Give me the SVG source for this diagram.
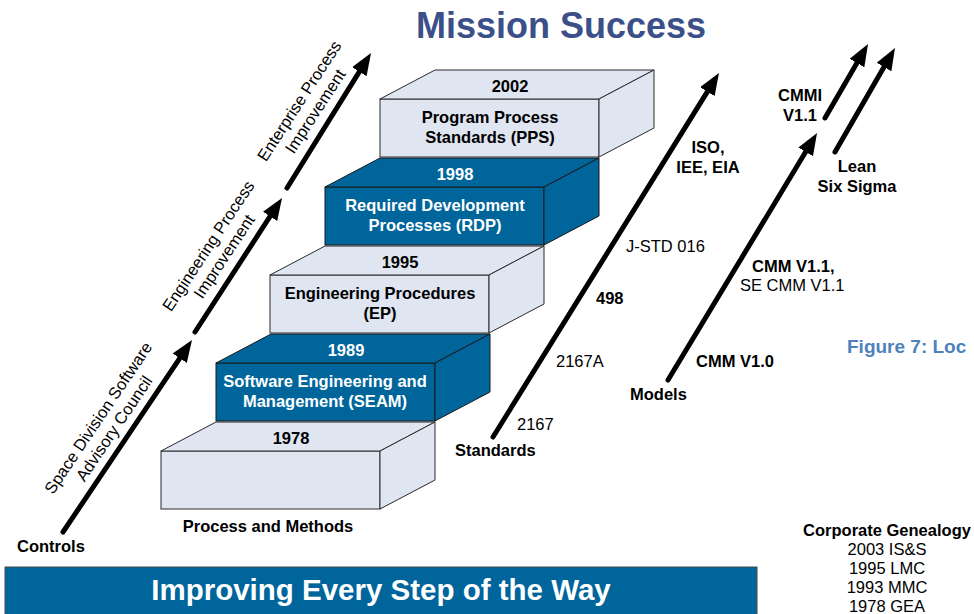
<svg xmlns="http://www.w3.org/2000/svg" width="974" height="614" viewBox="0 0 974 614">
<style>
  text { font-family: "Liberation Sans", Arial, sans-serif; font-size: 16.5px; fill: #000; }
  .b { font-weight: bold; }
  .w { fill: #fff; }
  .m { text-anchor: middle; }
  .light { fill: #dfe5f1; stroke: #2a2a2a; stroke-width: 1; }
  .dark { fill: #00659b; stroke: #1a1a1a; stroke-width: 1; }
  .arr { stroke: #000; stroke-width: 5; stroke-linecap: round; fill: none; marker-end: url(#head); }
</style>
<defs>
  <marker id="head" markerUnits="userSpaceOnUse" markerWidth="22" markerHeight="17" viewBox="0 0 22 17" refX="8" refY="8.5" orient="auto">
    <path d="M0,0 L22,8.5 L0,17 z" fill="#000"/>
  </marker>
</defs>
<rect width="974" height="614" fill="#fff"/>

<text id="title" x="561" y="38" class="b m" style="font-size:36px;fill:#3b5088">Mission Success</text>

<!-- Step boxes -->
<g id="box1978">
  <rect class="light" x="161" y="451" width="219" height="58"/>
  <polygon class="light" points="161,451 216,422 435,422 380,451"/>
  <polygon class="light" points="380,451 435,422 435,480 380,509"/>
  <text x="291" y="444" class="b m">1978</text>
</g>
<g id="box1989">
  <rect class="dark" x="216" y="363" width="219" height="58"/>
  <polygon class="dark" points="216,363 271,334 490,334 435,363"/>
  <polygon class="dark" points="435,363 490,334 490,392 435,421"/>
  <text x="346" y="356" class="b m w">1989</text>
  <text x="325" y="387" class="b m w">Software Engineering and</text>
  <text x="325" y="407" class="b m w">Management (SEAM)</text>
</g>
<g id="box1995">
  <rect class="light" x="270" y="275" width="219" height="58"/>
  <polygon class="light" points="270,275 325,246 544,246 489,275"/>
  <polygon class="light" points="489,275 544,246 544,304 489,333"/>
  <text x="400" y="268" class="b m">1995</text>
  <text x="380" y="299" class="b m">Engineering Procedures</text>
  <text x="380" y="319" class="b m">(EP)</text>
</g>
<g id="box1998">
  <rect class="dark" x="325" y="187" width="219" height="58"/>
  <polygon class="dark" points="325,187 380,158 599,158 544,187"/>
  <polygon class="dark" points="544,187 599,158 599,216 544,245"/>
  <text x="455" y="180" class="b m w">1998</text>
  <text x="435" y="211" class="b m w">Required Development</text>
  <text x="435" y="231" class="b m w">Processes (RDP)</text>
</g>
<g id="box2002">
  <rect class="light" x="380" y="99" width="219" height="58"/>
  <polygon class="light" points="380,99 435,70 654,70 599,99"/>
  <polygon class="light" points="599,99 654,70 654,128 599,157"/>
  <text x="510" y="92" class="b m">2002</text>
  <text x="490" y="123" class="b m">Program Process</text>
  <text x="490" y="143" class="b m">Standards (PPS)</text>
</g>

<g id="connectors">
  <line class="arr" x1="63" y1="532" x2="184.2" y2="351.6"/>
  <line class="arr" x1="195" y1="332" x2="274.4" y2="209.7"/>
  <line class="arr" x1="287" y1="188" x2="363.6" y2="64.9"/>
  <line class="arr" x1="493" y1="437" x2="711.6" y2="84.9"/>
  <line class="arr" x1="668" y1="380" x2="809.8" y2="145"/>
  <line class="arr" x1="825" y1="118" x2="861" y2="56.1"/>
  <line class="arr" x1="835" y1="152" x2="888" y2="60.1"/>
</g>

<!-- Controls labels -->
<g id="controls">
  <text x="17" y="552" class="b">Controls</text>
  <g transform="translate(103,421) rotate(-56)">
    <text x="0" y="0" class="m">Space Division Software</text>
    <text x="0" y="19" class="m">Advisory Council</text>
  </g>
  <g transform="translate(213,249) rotate(-56.5)">
    <text x="0" y="0" class="m">Engineering Process</text>
    <text x="0" y="19" class="m">Improvement</text>
  </g>
  <g transform="translate(304,104) rotate(-57)">
    <text x="0" y="0" class="m">Enterprise Process</text>
    <text x="0" y="19" class="m">Improvement</text>
  </g>
</g>

<text id="process" x="268" y="532" class="b m">Process and Methods</text>

<g id="standards">
  <text x="455" y="456" class="b">Standards</text>
  <text x="517" y="430">2167</text>
  <text x="556" y="367">2167A</text>
  <text x="596" y="304" class="b">498</text>
  <text x="626" y="252">J-STD 016</text>
  <text x="708" y="153" class="b m">ISO,</text>
  <text x="708" y="173" class="b m">IEE, EIA</text>
</g>

<g id="models">
  <text x="630" y="400" class="b">Models</text>
  <text x="696" y="367" class="b">CMM V1.0</text>
  <text x="752" y="272" class="b">CMM V1.1,</text>
  <text x="740" y="291">SE CMM V1.1</text>
  <text x="800" y="101" class="b m">CMMI</text>
  <text x="800" y="121" class="b m">V1.1</text>
  <text x="857" y="172" class="b m">Lean</text>
  <text x="857" y="192" class="b m">Six Sigma</text>
</g>

<text id="figure" x="847" y="353" class="b" style="font-size:19px;fill:#4f81bd">Figure 7: Loc</text>

<g id="genealogy">
  <text x="887" y="536" class="b m">Corporate Genealogy</text>
  <text x="887" y="555" class="m">2003 IS&amp;S</text>
  <text x="887" y="574" class="m">1995 LMC</text>
  <text x="887" y="593" class="m">1993 MMC</text>
  <text x="887" y="612" class="m">1978 GEA</text>
</g>

<g id="banner">
  <rect x="5" y="567" width="752" height="60" fill="#00659b" stroke="#4a4a4a" stroke-width="1"/>
  <text x="381" y="600" class="b m w" style="font-size:29.5px">Improving Every Step of the Way</text>
</g>
</svg>
